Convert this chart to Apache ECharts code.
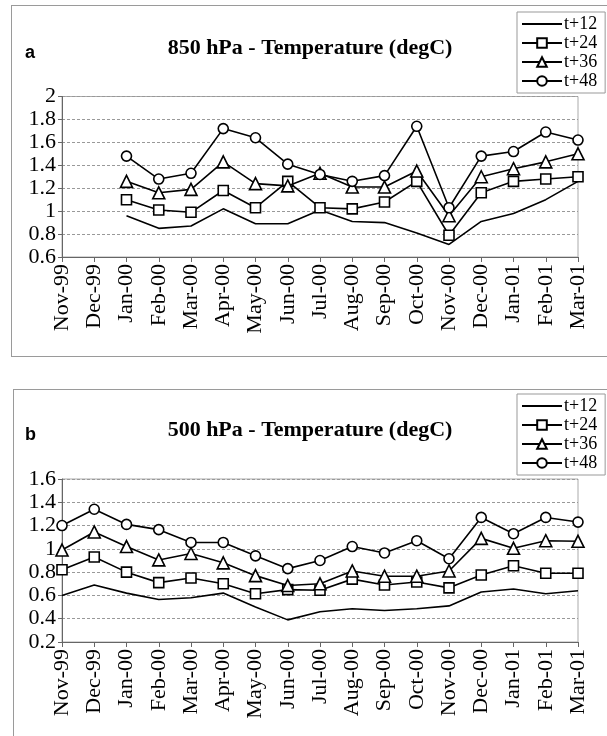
<!DOCTYPE html>
<html>
<head>
    <meta charset="utf-8">
    <title>Temperature</title>
    <script src="https://cdn.jsdelivr.net/npm/echarts@6/dist/echarts.min.js"></script>
    <style>
        body { margin: 0; background: #fff; }
        #wrap { position: relative; width: 607px; height: 736px; overflow: hidden; }
        .frame { position: absolute; border: 1px solid #9a9a9a; width: 620px; }
        .chart { position: absolute; left: 0; width: 607px; }
    </style>
</head>
<body>
<div id="wrap">
    <div class="frame" style="left:11px;top:5px;height:350px;"></div>
    <div class="frame" style="left:13px;top:389px;height:360px;"></div>
    <div id="chart1" class="chart" style="top:0;height:370px;"></div>
    <div id="chart2" class="chart" style="top:370px;height:366px;"></div>
</div>
<script>
    // 月份
    var months = ['Nov-99','Dec-99','Jan-00','Feb-00','Mar-00','Apr-00','May-00','Jun-00','Jul-00',
        'Aug-00','Sep-00','Oct-00','Nov-00','Dec-00','Jan-01','Feb-01','Mar-01'];
    var names = ['t+12','t+24','t+36','t+48'];

    // 850 hPa (a)
    var a12 = ['-','-',0.96,0.85,0.87,1.02,0.89,0.89,1.01,0.91,0.90,0.81,0.71,0.91,0.98,1.10,1.26];
    var a24 = ['-','-',1.10,1.01,0.99,1.18,1.03,1.26,1.03,1.02,1.08,1.26,0.79,1.16,1.26,1.28,1.30];
    var a36 = ['-','-',1.26,1.16,1.19,1.43,1.24,1.22,1.33,1.21,1.21,1.35,0.96,1.30,1.37,1.43,1.50];
    var a48 = ['-','-',1.48,1.28,1.33,1.72,1.64,1.41,1.32,1.26,1.31,1.74,1.03,1.48,1.52,1.69,1.62];

    // 500 hPa (b)
    var b12 = [0.60,0.69,0.62,0.565,0.58,0.62,0.50,0.39,0.46,0.485,0.47,0.485,0.51,0.63,0.655,0.615,0.64];
    var b24 = [0.82,0.93,0.80,0.71,0.75,0.70,0.615,0.65,0.645,0.74,0.69,0.715,0.665,0.775,0.855,0.79,0.79];
    var b36 = [0.99,1.145,1.02,0.905,0.96,0.88,0.77,0.685,0.70,0.81,0.765,0.765,0.81,1.09,1.005,1.07,1.065];
    var b48 = [1.20,1.34,1.21,1.165,1.055,1.055,0.94,0.83,0.90,1.02,0.965,1.07,0.915,1.27,1.13,1.27,1.23];

    var serif = 'Liberation Serif';
    var symbols = ['none','rect','triangle','circle'];

    function makeSeries(list){
        return list.map(function(d, i){
            return {
                name: names[i],
                type: 'line',
                data: d,
                symbol: symbols[i],
                symbolSize: i == 2 ? 12 : 10,
                showSymbol: i > 0,
                lineStyle: {color: '#000', width: 1.6},
                itemStyle: {color: '#fff', borderColor: '#000', borderWidth: 1.6},
                z: 2 + i
            };
        });
    }

    // 图例: t+12 只有线, 不要符号
    var legendData = names.map(function(n, i){
        return i == 0 ? {name: n, itemStyle: {opacity: 0}} : {name: n};
    });

    function makeOption(letter, text, min, max, grid, legendTop, list){
        return {
            animation: false,
            backgroundColor: 'transparent',
            title: [{
                text: letter, left: 20, top: legendTop + 27,
                textStyle: {fontFamily: 'Liberation Sans', fontWeight: 'bold', fontSize: 18, color: '#000'}
            }, {
                text: text, left: 305, textAlign: 'center', top: legendTop + 20,
                textStyle: {fontFamily: serif, fontWeight: 'bold', fontSize: 22, color: '#000'}
            }],
            legend: {
                data: legendData,
                orient: 'vertical',
                left: 517, top: legendTop,
                itemWidth: 40, itemHeight: 12, itemGap: 1,
                padding: [3, 8, 3, 4],
                backgroundColor: '#fff',
                borderColor: '#999', borderWidth: 1,
                borderRadius: 0,
                selectedMode: false,
                textStyle: {fontFamily: serif, fontSize: 18, color: '#000', padding: [0, 0, 0, -3]}
            },
            grid: {
                left: 62, right: 29, top: grid[0], bottom: grid[1],
                show: true, borderColor: '#aaa', borderWidth: 1
            },
            xAxis: {
                type: 'category',
                data: months,
                boundaryGap: false,
                axisLine: {lineStyle: {color: '#666', width: 1}},
                axisTick: {show: true, interval: 0, length: 5, lineStyle: {color: '#666'}},
                axisLabel: {interval: 0, rotate: 90, margin: 7, fontFamily: serif, fontSize: 22, color: '#000'}
            },
            yAxis: {
                type: 'value',
                min: min, max: max, interval: 0.2,
                axisLine: {show: true, lineStyle: {color: '#666', width: 1}},
                axisTick: {show: true, length: 4, lineStyle: {color: '#666'}},
                axisLabel: {margin: 6, fontFamily: serif, fontSize: 22, color: '#000'},
                splitLine: {lineStyle: {color: '#999', type: [3, 2], width: 1}}
            },
            series: makeSeries(list)
        };
    }

    var myChart1 = echarts.init(document.getElementById('chart1'));
    myChart1.setOption(makeOption('a', '850 hPa - Temperature (degC)', 0.6, 2, [96.5, 113], 12, [a12, a24, a36, a48]));

    var myChart2 = echarts.init(document.getElementById('chart2'));
    myChart2.setOption(makeOption('b', '500 hPa - Temperature (degC)', 0.2, 1.6, [109, 94], 24, [b12, b24, b36, b48]));
</script>
</body>
</html>
